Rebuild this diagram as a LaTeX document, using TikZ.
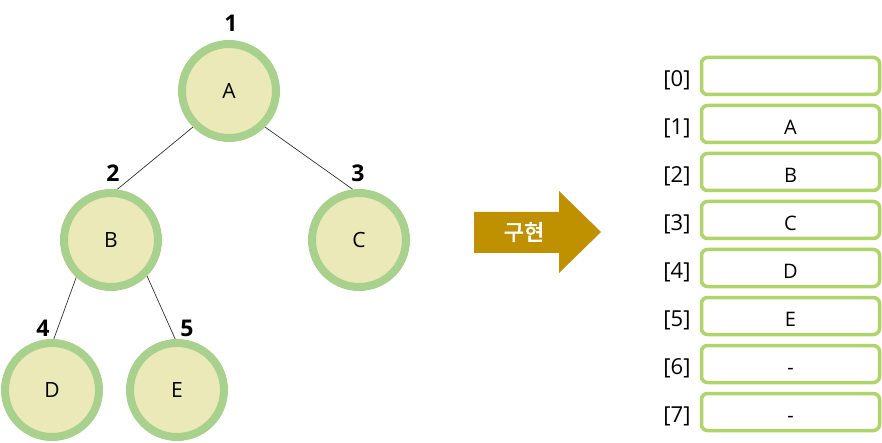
\documentclass[tikz,border=0pt]{standalone}
\usepackage{fontspec}
\setmainfont{Open Sans}
\newfontfamily\kr{Noto Sans CJK KR}[AutoFakeBold=2.5]
\usetikzlibrary{backgrounds}
\definecolor{ringgreen}{HTML}{A9D18E}
\definecolor{ringfill}{HTML}{EBE9B7}
\definecolor{boxgreen}{HTML}{B0D36A}
\definecolor{arrowgold}{HTML}{BF9000}
\tikzset{
  treenode/.style={circle, draw=ringgreen, fill=ringfill, line width=8pt, minimum size=94pt, inner sep=0pt, font=\fontsize{21}{25}\selectfont, text height=15.1pt, text depth=0pt},
  numlabel/.style={font=\fontsize{23}{27}\selectfont\bfseries, inner sep=0pt, text height=16.6pt, text depth=0pt},
  edge/.style={draw=black!80, line width=0.7pt},
  cell/.style={draw=boxgreen, line width=3.5pt, rounded corners=6pt, minimum width=178pt, minimum height=37pt, inner sep=0pt},
  celltext/.style={font=\fontsize{20}{24}\selectfont, inner sep=0pt, text height=14.4pt, text depth=0pt},
  idx/.style={font=\fontsize{22}{26}\selectfont, inner sep=0pt, text height=15.8pt, text depth=0pt}
}
\begin{document}
\begin{tikzpicture}[x=1pt,y=-1pt]
\useasboundingbox (0,0) rectangle (882,443);
% tree
\node[treenode] (A) at (229,91) {A};
\node[treenode] (B) at (111,240) {B};
\node[treenode] (C) at (359,240) {C};
\node[treenode] (D) at (52,390) {D};
\node[treenode] (E) at (177,390) {E};
\node[numlabel] (n1) at (231,23) {1};
\node[numlabel] (n2) at (113,173) {2};
\node[numlabel] (n3) at (358,173) {3};
\node[numlabel] (n4) at (43,328) {4};
\node[numlabel] (n5) at (187,328) {5};
\begin{scope}[on background layer]
\draw[edge] (A.225) -- (B.83);
\draw[edge] (A.-45) -- (C.97);
\draw[edge] (B.227) -- (D.88);
\draw[edge] (B.-45) -- (E.92);
\end{scope}
% arrow
\fill[arrowgold] (474,212) -- (559,212) -- (559,191) -- (601,232) -- (559,273) -- (559,253) -- (474,253) -- cycle;
\node[text=white, font=\kr\fontsize{22}{26}\selectfont\bfseries, inner sep=0pt] (impl) at (524,232) {구현};
% array
\foreach \i/\t in {0/{},1/A,2/B,3/C,4/D,5/E,6/-,7/-}{
  \node[cell] (c\i) at (790.5,{76+48*\i}) {};
  \node[celltext] (t\i) at ([yshift=-3pt]c\i.center) {\t};
  \node[idx] (i\i) at (677,{79+48*\i}) {[\i]};
}
\end{tikzpicture}
\end{document}
